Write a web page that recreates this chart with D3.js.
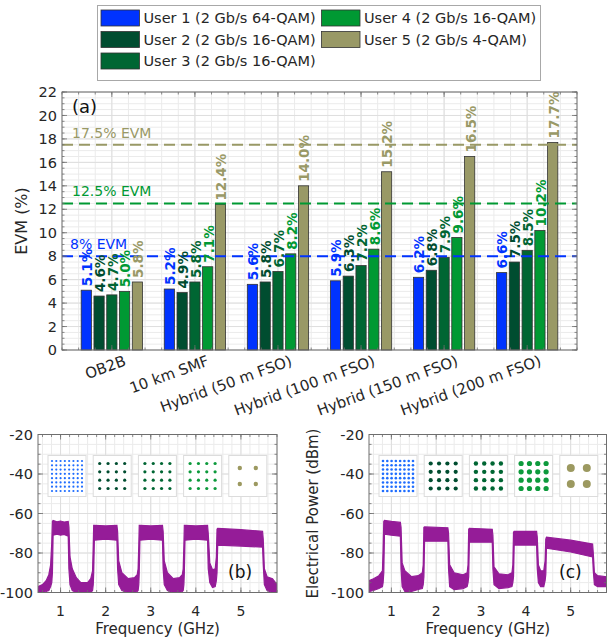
<!DOCTYPE html>
<html>
<head>
<meta charset="utf-8">
<script src="https://cdn.jsdelivr.net/npm/d3@7"></script>
<style>
body { margin: 0; background: #fff; }
svg { font-family: "DejaVu Sans", Verdana, sans-serif; }
</style>
</head>
<body>
<svg id="chart" width="615" height="641"></svg>
<script>
// ----- data -----
var groups = ["OB2B", "10 km SMF", "Hybrid (50 m FSO)", "Hybrid (100 m FSO)", "Hybrid (150 m FSO)", "Hybrid (200 m FSO)"];
var userNames = ["User 1 (2 Gb/s 64-QAM)", "User 2 (2 Gb/s 16-QAM)", "User 3 (2 Gb/s 16-QAM)", "User 4 (2 Gb/s 16-QAM)", "User 5 (2 Gb/s 4-QAM)"];
var userColors = ["#0033ff", "#004d30", "#006633", "#009933", "#999966"];

var evmUser1 = [5.1, 5.2, 5.6, 5.9, 6.2, 6.6];
var evmUser2 = [4.6, 4.9, 5.8, 6.3, 6.8, 7.5];
var evmUser3 = [4.7, 5.8, 6.7, 7.2, 7.9, 8.5];
var evmUser4 = [5.0, 7.1, 8.2, 8.6, 9.6, 10.2];
var evmUser5 = [5.8, 12.4, 14.0, 15.2, 16.5, 17.7];

var evmLimits = [8, 12.5, 17.5];
var evmLimitLabels = ["8% EVM", "12.5% EVM", "17.5% EVM"];
var evmLimitColors = ["#0033ff", "#009933", "#999966"];

var evmTicks = [0, 2, 4, 6, 8, 10, 12, 14, 16, 18, 20, 22];
var freqTicks = [1, 2, 3, 4, 5];
var powerTicks = [-100, -80, -60, -40, -20];

// [frequency GHz, upper edge dBm, lower edge dBm] of the thick spectrum trace
var spectrumB = [
  [0.50, -97, -100], [0.60, -96, -100], [0.68, -94, -99.5], [0.74, -91, -99], [0.78, -86, -97],
  [0.805, -75, -95], [0.82, -64, -90], [0.835, -63.5, -71], [0.92, -64.2, -70.5], [1.00, -63.8, -71],
  [1.08, -64.3, -70.6], [1.17, -64, -71.5],
  [1.185, -67, -88], [1.21, -82, -96], [1.26, -88, -99], [1.35, -92.5, -100], [1.45, -95, -100],
  [1.60, -95, -100], [1.67, -93, -100], [1.71, -89, -99], [1.725, -76, -96], [1.735, -66, -90],
  [1.75, -66, -73.5], [2.00, -66.3, -73], [2.25, -66, -73.5], [2.265, -69, -88], [2.29, -84, -96],
  [2.36, -90, -99], [2.50, -93, -100], [2.64, -92.5, -100], [2.70, -91, -99.5], [2.72, -88, -99],
  [2.735, -76, -96], [2.745, -66, -90], [2.76, -66, -73.5], [3.00, -66.3, -73], [3.26, -66, -73.5], [3.275, -69, -88],
  [3.30, -84, -96], [3.37, -90, -99], [3.50, -93, -100], [3.64, -92.5, -100], [3.70, -91, -99.5],
  [3.72, -88, -99], [3.735, -76, -96], [3.745, -66, -90], [3.76, -66, -73.5], [4.00, -66.3, -73], [4.26, -66, -73.5],
  [4.275, -70, -88], [4.31, -85, -95], [4.37, -88.5, -97.5], [4.43, -88, -97], [4.455, -82, -94],
  [4.47, -68, -90], [4.485, -67.5, -76], [5.00, -68.2, -76.5], [5.48, -69, -77], [5.495, -73, -86],
  [5.52, -88, -96], [5.58, -92, -99], [5.70, -93, -100], [5.80, -96, -100]
];
var spectrumC = [
  [0.50, -94, -99.5], [0.60, -93, -99], [0.72, -91.5, -98], [0.80, -89, -97], [0.815, -78, -95],
  [0.83, -64, -90], [0.845, -63.5, -70.5], [1.00, -64, -71], [1.20, -64.5, -71.5], [1.215, -67, -88],
  [1.24, -85, -97], [1.30, -89, -99.5], [1.45, -92, -99.5], [1.60, -91.5, -98.5], [1.69, -90, -98],
  [1.71, -86, -96], [1.725, -67, -92], [1.74, -66.8, -74], [2.26, -67.2, -74], [2.275, -70, -88],
  [2.30, -86, -97], [2.40, -90, -98.5], [2.60, -91, -98], [2.69, -90, -97], [2.71, -86, -95],
  [2.725, -68, -92], [2.74, -67.5, -74.5], [3.25, -68, -74.5], [3.265, -71, -88], [3.29, -87, -96],
  [3.40, -90.5, -98], [3.60, -91, -97.5], [3.69, -90, -97], [3.71, -86, -95], [3.725, -69.5, -92],
  [3.74, -69, -76], [4.24, -69, -76], [4.255, -72, -88], [4.28, -86, -95], [4.33, -89, -97],
  [4.40, -89, -97], [4.43, -84, -94], [4.445, -73, -91], [4.46, -72, -77.6], [5.00, -73.5, -79.5],
  [5.49, -75.5, -82], [5.505, -80, -89], [5.53, -90, -96], [5.60, -91.5, -97], [5.80, -92, -97]
];

// ideal constellation levels for the insets
var qam64Levels = [-7, -5, -3, -1, 1, 3, 5, 7];
var qam16Levels = [-3, -1, 1, 3];
var qam4Levels = [-1, 1];

var svg = d3.select("#chart");
var frameColor = "#6e6e6e";
var textColor = "#262626";

// light grid, minor first then major
function drawGrid(g, x, y, xMinor, yMinor, xMajor, yMajor) {
    var x0 = x.range()[0], x1 = x.range()[1], y0 = y.range()[0], y1 = y.range()[1];
    g.selectAll(".gxm").data(xMinor).join("line")
        .attr("x1", d => x(d)).attr("x2", d => x(d)).attr("y1", y0).attr("y2", y1)
        .attr("stroke", "#ebebeb").attr("stroke-width", 1);
    g.selectAll(".gym").data(yMinor).join("line")
        .attr("x1", x0).attr("x2", x1).attr("y1", d => y(d)).attr("y2", d => y(d))
        .attr("stroke", "#ebebeb").attr("stroke-width", 1);
    g.selectAll(".gxM").data(xMajor).join("line")
        .attr("x1", d => x(d)).attr("x2", d => x(d)).attr("y1", y0).attr("y2", y1)
        .attr("stroke", "#dedede").attr("stroke-width", 1);
    g.selectAll(".gyM").data(yMajor).join("line")
        .attr("x1", x0).attr("x2", x1).attr("y1", d => y(d)).attr("y2", d => y(d))
        .attr("stroke", "#dedede").attr("stroke-width", 1);
}

// box with inward ticks on all four sides
function drawFrame(g, x, y, xMinor, yMinor, xMajor, yMajor) {
    var x0 = x.range()[0], x1 = x.range()[1], y0 = y.range()[0], y1 = y.range()[1];
    var ticks = [];
    xMinor.forEach(d => { ticks.push([x(d), y0, x(d), y0 - 2.5]); ticks.push([x(d), y1, x(d), y1 + 2.5]); });
    xMajor.forEach(d => { ticks.push([x(d), y0, x(d), y0 - 5]); ticks.push([x(d), y1, x(d), y1 + 5]); });
    yMinor.forEach(d => { ticks.push([x0, y(d), x0 + 2.5, y(d)]); ticks.push([x1, y(d), x1 - 2.5, y(d)]); });
    yMajor.forEach(d => { ticks.push([x0, y(d), x0 + 5, y(d)]); ticks.push([x1, y(d), x1 - 5, y(d)]); });
    g.append("g").selectAll("line").data(ticks).join("line")
        .attr("x1", d => d[0]).attr("y1", d => d[1]).attr("x2", d => d[2]).attr("y2", d => d[3])
        .attr("stroke", frameColor).attr("stroke-width", 0.8);
    g.append("rect").attr("x", x0).attr("y", y1).attr("width", x1 - x0).attr("height", y0 - y1)
        .attr("fill", "none").attr("stroke", frameColor).attr("stroke-width", 1);
}

// ---------- legend ----------
var legend = svg.append("g");
legend.append("rect").attr("x", 97.5).attr("y", 5.5).attr("width", 443).attr("height", 75)
    .attr("fill", "#fff").attr("stroke", "#a8a8a8").attr("stroke-width", 1);
var legendCols = [101, 321.5];
userNames.forEach(function(name, i) {
    var col = i < 3 ? 0 : 1;
    var row = i < 3 ? i : i - 3;
    var ly = 10 + row * 21.5;
    legend.append("rect").attr("x", legendCols[col]).attr("y", ly).attr("width", 38.5).attr("height", 16)
        .attr("fill", userColors[i]).attr("stroke", "#333").attr("stroke-width", 0.8);
    legend.append("text").attr("x", legendCols[col] + 42.5).attr("y", ly + 8).attr("dy", "0.36em")
        .attr("font-size", 14.5).attr("fill", textColor).text(name);
});

// ---------- panel (a): EVM bars ----------
var pa = {left: 62, right: 577, top: 92, bottom: 350};
var xa = d3.scaleLinear().domain([0.4, 6.6]).range([pa.left, pa.right]);
var ya = d3.scaleLinear().domain([0, 22]).range([pa.bottom, pa.top]);
var ga = svg.append("g");
var xaMinor = d3.range(2, 34).map(d => d / 5);
var yaMinor = d3.range(0, 45).map(d => d / 2);
var xaMajor = [1, 2, 3, 4, 5, 6];
drawGrid(ga, xa, ya, xaMinor, yaMinor, xaMajor, evmTicks);

var evmSeries = [evmUser1, evmUser2, evmUser3, evmUser4, evmUser5];
var barStep = 0.1538, barWidth = 0.123;
evmSeries.forEach(function(series, i) {
    var off = (i - 2) * barStep;
    ga.append("g").selectAll("rect").data(series).join("rect")
        .attr("x", (d, k) => xa(k + 1 + off - barWidth / 2))
        .attr("width", xa(barWidth) - xa(0))
        .attr("y", d => ya(d))
        .attr("height", d => ya(0) - ya(d))
        .attr("fill", userColors[i]).attr("stroke", "#333").attr("stroke-width", 0.8);
});

// threshold lines
evmLimits.forEach(function(v, i) {
    ga.append("line").attr("x1", pa.left).attr("x2", pa.right).attr("y1", ya(v)).attr("y2", ya(v))
        .attr("stroke", evmLimitColors[i]).attr("stroke-width", 2).attr("stroke-dasharray", "11,6");
    ga.append("text").attr("x", pa.left + (i == 0 ? 8 : 10)).attr("y", ya(v) - 7)
        .attr("font-size", 14).attr("fill", evmLimitColors[i]).text(evmLimitLabels[i]);
});

// value labels above bars
evmSeries.forEach(function(series, i) {
    var off = (i - 2) * barStep;
    ga.append("g").selectAll("text").data(series).join("text")
        .attr("transform", (d, k) => "translate(" + (xa(k + 1 + off) + 1) + "," + (ya(d) - 4) + ") rotate(-90)")
        .attr("dy", "0.36em")
        .attr("font-size", 13.5).attr("font-weight", "bold")
        .attr("fill", userColors[i])
        .text(d => d.toFixed(1) + "%");
});

drawFrame(ga, xa, ya, xaMinor, yaMinor, xaMajor, evmTicks);

ga.append("g").selectAll("text").data(evmTicks).join("text")
    .attr("x", pa.left - 5).attr("y", d => ya(d)).attr("dy", "0.36em").attr("text-anchor", "end")
    .attr("font-size", 14.5).attr("fill", textColor).text(d => d);

ga.append("g").selectAll("text").data(groups).join("text")
    .attr("transform", (d, k) => "translate(" + (xa(k + 1) + 15) + "," + (pa.bottom + 15) + ") rotate(-20)")
    .attr("text-anchor", "end").attr("font-size", 15).attr("fill", textColor).text(d => d);

ga.append("text").attr("transform", "translate(27," + ((pa.top + pa.bottom) / 2) + ") rotate(-90)")
    .attr("text-anchor", "middle").attr("font-size", 16).attr("fill", textColor).text("EVM (%)");
ga.append("text").attr("x", 72).attr("y", 113).attr("font-size", 18).attr("fill", "#111").text("(a)");

// ---------- panels (b) and (c): spectra with constellation insets ----------
var insetLevels = [qam64Levels, qam16Levels, qam16Levels, qam16Levels, qam4Levels];
var insetHalfSpan = [15, 12.5, 12.5, 12.5, 8];
var insetColors = ["#1f6dff", "#004d30", "#006633", "#0d9a3c", "#9c9960"];

function spectrumPanel(box, data, dotRadius, tag, yLabel) {
    var g = svg.append("g");
    var x = d3.scaleLinear().domain([0.5, 5.8]).range([box.left, box.right]);
    var y = d3.scaleLinear().domain([-100, -20]).range([box.bottom, box.top]);
    var xMinor = d3.range(3, 30).map(d => d / 5);
    var yMinor = d3.range(-19, -4).map(d => d * 5);
    drawGrid(g, x, y, xMinor, yMinor, freqTicks, powerTicks);

    // constellation insets
    insetLevels.forEach(function(levels, i) {
        var bx = box.left + 10 + i * 45.2, by = box.top + 21, bw = 38, bh = 41;
        g.append("rect").attr("x", bx).attr("y", by).attr("width", bw).attr("height", bh)
            .attr("fill", "#fff").attr("stroke", "#dcdcdc").attr("stroke-width", 1);
        var m = d3.max(levels);
        var s = d3.scaleLinear().domain([-m, m]).range([-insetHalfSpan[i], insetHalfSpan[i]]);
        var pts = [];
        levels.forEach(a => levels.forEach(b => pts.push([a, b])));
        g.append("g").selectAll("circle").data(pts).join("circle")
            .attr("cx", d => bx + bw / 2 + s(d[0]))
            .attr("cy", d => by + bh / 2 - s(d[1]))
            .attr("r", dotRadius[i]).attr("fill", insetColors[i]);
    });

    g.append("defs").append("clipPath").attr("id", "clip" + tag)
        .append("rect").attr("x", box.left).attr("y", box.top)
        .attr("width", box.right - box.left).attr("height", box.bottom - box.top);
    var area = d3.area().x(d => x(d[0])).y0(d => y(d[2])).y1(d => y(d[1]));
    g.append("path").datum(data).attr("d", area).attr("clip-path", "url(#clip" + tag + ")")
        .attr("fill", "#951c98").attr("stroke", "#951c98").attr("stroke-width", 1.2);

    drawFrame(g, x, y, xMinor, yMinor, freqTicks, powerTicks);

    g.append("g").selectAll("text").data(powerTicks).join("text")
        .attr("x", box.left - 5).attr("y", d => y(d)).attr("dy", "0.36em").attr("text-anchor", "end")
        .attr("font-size", 14.5).attr("fill", textColor).text(d => d);
    g.append("g").selectAll("text").data(freqTicks).join("text")
        .attr("x", d => x(d)).attr("y", box.bottom + 23).attr("text-anchor", "middle")
        .attr("font-size", 14).attr("fill", textColor).text(d => d);
    g.append("text").attr("x", (box.left + box.right) / 2).attr("y", 634).attr("text-anchor", "middle")
        .attr("font-size", 15).attr("fill", textColor).text("Frequency (GHz)");
    g.append("text").attr("x", box.tagX).attr("y", 578).attr("font-size", 17).attr("fill", "#111").text("(" + tag + ")");
    if (yLabel) {
        g.append("text").attr("transform", "translate(" + (box.left - 51) + "," + ((box.top + box.bottom) / 2) + ") rotate(-90)")
            .attr("text-anchor", "middle").attr("font-size", 15).attr("fill", textColor).text(yLabel);
    }
}

spectrumPanel({left: 38, right: 277, top: 434.5, bottom: 592.5, tagX: 228}, spectrumB, [1.1, 1.6, 1.6, 1.6, 2.2], "b", null);
spectrumPanel({left: 369, right: 606.5, top: 434.5, bottom: 592.5, tagX: 559}, spectrumC, [1.3, 2.1, 2.2, 2.6, 4], "c", "Electrical Power (dBm)");
</script>
</body>
</html>
